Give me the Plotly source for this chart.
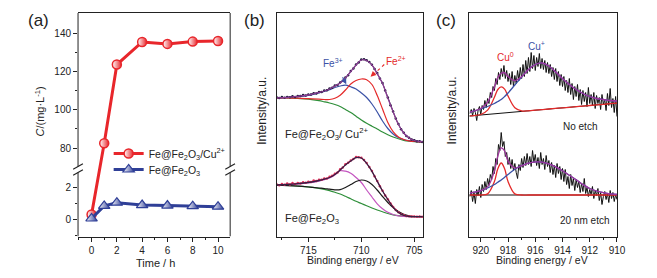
import plotly.graph_objects as go

W, H = 657, 278
FONT = "Liberation Sans, Arial, sans-serif"
TXT = "#222222"


def PX(px):
    return px / W


def PY(py):
    return 1 - py / H


# ---------------- Panel (a) data ----------------
time_h = [0, 1, 2, 4, 6, 8, 10]
conc_fe_cu = [0.3, 82.5, 123.6, 135.4, 134.4, 135.6, 135.9]
conc_fe = [0.05, 0.85, 1.05, 0.9, 0.87, 0.83, 0.8]
xticks_a = [0, 2, 4, 6, 8, 10]
xminor_a = [-1, 1, 3, 5, 7, 9]
yticks_a = [0, 2, 80, 100, 120, 140]
yminor_a = [-1, 1, 90, 110, 130]

# broken axis: lower segment linear, upper segment compressed
BREAK_AT = 40
UP_D0 = 4.51
UP_SCALE = 8.25


def brk(v):
    return v if v < BREAK_AT else UP_D0 + (v - 80) / UP_SCALE


# ---------------- Panel (b) data ----------------
E_FIT_B = [718, 717, 716, 715, 714, 713.5, 713, 712.5, 712, 711.5, 711, 710.5, 710,
           709.5, 709, 708.5, 708, 707.5, 707, 706.5, 706, 705.5, 705, 704.5, 704.2]
top_env = [138.7, 139.0, 140.2, 141.5, 144.0, 145.5, 147.5, 150.5, 153.5, 158.5, 165.0, 171.5, 176.5,
           176.0, 171.5, 163.0, 153.0, 138.5, 124.8, 112.0, 103.5, 98.5, 96.0, 95.0, 94.8]
top_fe3 = [138.7, 139.0, 139.7, 141.0, 143.5, 145.0, 146.7, 149.0, 150.5, 151.3, 149.7, 147.5, 143.5,
           139.0, 132.5, 124.5, 115.5, 108.0, 102.5, 99.0, 97.0, 95.8, 95.2, 94.8, 94.7]
top_fe2 = [138.7, 138.6, 138.3, 137.8, 137.3, 137.0, 137.0, 138.2, 141.2, 146.5, 152.5, 156.0, 157.5,
           156.8, 152.0, 141.0, 127.5, 114.0, 104.8, 99.5, 97.0, 95.7, 95.0, 94.7, 94.7]
top_bg = [138.7, 138.5, 138.0, 137.3, 135.8, 134.7, 133.5, 132.0, 130.0, 127.0, 124.0, 120.3, 116.5,
          113.2, 110.3, 107.5, 104.5, 101.8, 99.5, 97.7, 96.2, 95.3, 94.8, 94.5, 94.5]
bot_env = [51.5, 52.0, 52.8, 54.0, 56.0, 57.3, 59.0, 62.0, 66.5, 71.5, 75.5, 78.9, 78.5,
           73.2, 65.2, 55.2, 45.5, 37.0, 29.2, 24.0, 21.2, 20.2, 19.9, 19.8, 19.8]
bot_c1 = [51.3, 51.7, 52.4, 53.5, 55.3, 56.7, 58.5, 61.5, 65.7, 65.3, 63.2, 59.0, 54.0,
          46.5, 39.5, 32.7, 27.7, 24.2, 22.0, 20.7, 20.1, 19.9, 19.8, 19.8, 19.8]
bot_c2 = [51.3, 50.9, 50.3, 49.5, 48.5, 48.0, 47.3, 46.7, 46.9, 49.0, 51.9, 55.0, 56.5,
          55.5, 52.0, 46.5, 40.0, 34.0, 29.0, 25.0, 22.2, 20.7, 20.0, 19.8, 19.8]
bot_bg = [51.3, 51.0, 50.5, 49.7, 48.2, 47.2, 45.8, 44.2, 42.5, 40.2, 37.7, 35.2, 33.0,
          30.7, 28.5, 26.5, 24.7, 23.0, 21.7, 20.8, 20.3, 20.0, 19.8, 19.8, 19.8]

E_DATA_B = [718.0, 717.75, 717.5, 717.25, 717.0, 716.75, 716.5, 716.25, 716.0, 715.75,
            715.5, 715.25, 715.0, 714.75, 714.5, 714.25, 714.0, 713.75, 713.5, 713.25,
            713.0, 712.75, 712.5, 712.25, 712.0, 711.75, 711.5, 711.25, 711.0, 710.75,
            710.5, 710.25, 710.0, 709.75, 709.5, 709.25, 709.0, 708.75, 708.5, 708.25,
            708.0, 707.75, 707.5, 707.25, 707.0, 706.75, 706.5, 706.25, 706.0, 705.75,
            705.5, 705.25, 705.0, 704.75, 704.5, 704.25]
top_data_b = [139.3, 138.5, 139.4, 138.8, 139.5, 139.2, 140.3, 139.6, 140.6, 140.4,
              141.4, 140.9, 141.9, 142.1, 143.3, 143.0, 144.5, 144.6, 145.9, 146.2,
              147.9, 148.8, 150.9, 151.6, 154.0, 155.8, 158.9, 161.3, 165.4, 168.0,
              171.9, 174.0, 176.9, 177.2, 176.3, 174.4, 171.8, 167.6, 163.4, 158.1,
              153.4, 145.9, 138.9, 131.2, 125.1, 117.9, 112.4, 107.2, 103.8, 100.5,
              98.8, 97.1, 96.3, 95.2, 95.3, 94.6]
bot_data_b = [52.3, 51.2, 52.6, 51.7, 52.9, 52.1, 53.4, 52.6, 53.6, 53.1,
              54.3, 53.7, 54.8, 54.6, 55.9, 55.4, 56.8, 56.7, 58.1, 58.0,
              59.8, 60.7, 62.8, 64.1, 67.2, 69.0, 72.2, 73.8, 76.1, 77.6,
              79.4, 79.3, 78.8, 76.6, 73.6, 69.6, 65.4, 60.2, 55.5, 50.3,
              45.7, 41.1, 37.2, 33.0, 29.4, 26.5, 24.2, 22.4, 21.4, 20.5,
              20.3, 19.9, 20.1, 19.7, 19.9, 19.7]
xticks_b = [715, 710, 705]
xminor_b = [717.5, 712.5, 707.5]

# ---------------- Panel (c) data ----------------
E_FIT_C = [920.8, 920.5, 920, 919.5, 919, 918.75, 918.5, 918.25, 918, 917.5, 917, 916.5, 916,
           915.5, 915, 914.5, 914, 913.5, 913, 912.5, 912, 911.5, 911, 910.5, 910]
top_cu0 = [120.6, 120.9, 122.0, 126.4, 139.3, 147.0, 149.6, 147.4, 140.5, 128.8, 125.6, 125.7, 126.3,
           126.9, 127.5, 128.1, 128.7, 129.2, 129.8, 130.4, 131.0, 131.6, 132.2, 132.8, 133.4]
top_cu1 = [124.5, 125.5, 127.5, 130.0, 133.0, 135.0, 137.0, 140.0, 143.5, 151.5, 159.5, 167.0, 172.0,
           173.5, 170.5, 164.5, 158.0, 152.0, 147.0, 143.0, 140.0, 138.0, 137.0, 136.0, 135.5]
top_envc = [124.5, 125.5, 128.0, 134.3, 149.6, 159.0, 163.3, 163.8, 160.1, 155.8, 160.0, 167.0, 172.0,
            173.5, 170.5, 164.5, 158.0, 152.0, 147.0, 143.0, 140.0, 138.0, 137.0, 136.0, 135.5]
E_BASE_C = [920.85, 910.0]
top_base = [120.5, 133.4]
bot_base = [41.5, 41.5]
bot_cu0 = [41.5, 41.5, 41.5, 42.6, 54.9, 67.7, 73.5, 67.7, 54.9, 42.6, 41.5, 41.5, 41.5,
           41.5, 41.5, 41.5, 41.5, 41.5, 41.5, 41.5, 41.5, 41.5, 41.5, 41.5, 41.5]
bot_cu1 = [43.4, 44.3, 45.8, 48.5, 52.0, 54.3, 56.6, 59.3, 62.0, 67.3, 70.8, 73.3, 74.6,
           74.4, 72.6, 69.6, 65.8, 61.3, 56.8, 52.0, 48.0, 45.5, 43.8, 42.6, 42.0]
bot_envc = [43.4, 44.3, 45.8, 49.6, 65.4, 80.5, 88.6, 85.5, 75.4, 68.4, 70.8, 73.3, 74.6,
            74.4, 72.6, 69.6, 65.8, 61.3, 56.8, 52.0, 48.0, 45.5, 43.8, 42.6, 42.0]

E_DATA_C = [920.8, 920.7, 920.6, 920.5, 920.4, 920.3, 920.2, 920.1, 920.0, 919.9,
            919.8, 919.7, 919.6, 919.5, 919.4, 919.3, 919.2, 919.1, 919.0, 918.9,
            918.8, 918.7, 918.6, 918.5, 918.4, 918.3, 918.2, 918.1, 918.0, 917.9,
            917.8, 917.7, 917.6, 917.5, 917.4, 917.3, 917.2, 917.1, 917.0, 916.9,
            916.8, 916.7, 916.6, 916.5, 916.4, 916.3, 916.2, 916.1, 916.0, 915.9,
            915.8, 915.7, 915.6, 915.5, 915.4, 915.3, 915.2, 915.1, 915.0, 914.9,
            914.8, 914.7, 914.6, 914.5, 914.4, 914.3, 914.2, 914.1, 914.0, 913.9,
            913.8, 913.7, 913.6, 913.5, 913.4, 913.3, 913.2, 913.1, 913.0, 912.9,
            912.8, 912.7, 912.6, 912.5, 912.4, 912.3, 912.2, 912.1, 912.0, 911.9,
            911.8, 911.7, 911.6, 911.5, 911.4, 911.3, 911.2, 911.1, 911.0, 910.9,
            910.8, 910.7, 910.6, 910.5, 910.4, 910.3, 910.2, 910.1, 910.0]
top_data_c = [123, 127, 121, 128, 124, 116, 126, 130, 122, 131,
              127, 136, 129, 138, 133, 144, 139, 150, 146, 158,
              152, 164, 157, 168, 160, 171, 158, 166, 155, 163,
              152, 165, 150, 161, 153, 166, 156, 169, 158, 172,
              160, 176, 163, 179, 165, 184, 168, 181, 166, 179,
              170, 183, 168, 178, 167, 176, 164, 174, 163, 172,
              160, 169, 157, 168, 155, 165, 151, 162, 150, 160,
              146, 156, 144, 158, 142, 153, 137, 150, 140, 152,
              136, 147, 132, 146, 135, 144, 130, 149, 133, 142,
              131, 144, 128, 141, 133, 139, 127, 142, 132, 137,
              126, 143, 131, 148, 129, 138, 124, 140, 120]
bot_data_c = [40, 46, 35, 44, 33, 47, 41, 50, 39, 52,
              45, 55, 47, 58, 51, 62, 57, 70, 63, 78,
              72, 92, 86, 104, 90, 95, 80, 84, 72, 79,
              68, 77, 66, 73, 64, 58, 72, 66, 78, 69,
              80, 71, 83, 72, 80, 70, 86, 74, 82, 71,
              79, 68, 84, 72, 78, 67, 81, 70, 76, 64,
              74, 62, 71, 59, 73, 63, 70, 57, 68, 55,
              67, 52, 60, 48, 62, 51, 58, 46, 57, 49,
              55, 44, 53, 45, 58, 43, 49, 40, 47, 42,
              50, 38, 46, 41, 48, 36, 44, 32, 40, 45,
              37, 43, 34, 46, 38, 44, 35, 42, 37]
xticks_c = [920, 918, 916, 914, 912, 910]
xminor_c = [921, 919, 917, 915, 913, 911]

# ---------------- colours ----------------
RED_A = "#e8262b"
BLUE_A = "#2f3f97"
C_BLUE = "#3b52a6"
C_RED = "#e42a2a"
C_GREEN = "#2f8f3a"
C_PURPLE = "#8a3c92"
C_DARK = "#1c1c3a"
C_PINK = "#e2305a"
C_MAG = "#c455c0"
C_BLACK = "#1a1a1a"

fig = go.Figure()

# ----- panel (a) -----
fig.add_trace(go.Scatter(
    x=time_h, y=[brk(v) for v in conc_fe_cu], xaxis="x", yaxis="y",
    mode="lines+markers", name="Fe@Fe<sub>2</sub>O<sub>3</sub>/Cu<sup>2+</sup>",
    legend="legend",
    line=dict(color=RED_A, width=3),
    marker=dict(symbol="circle", size=9, color="white",
                gradient=dict(type="horizontal", color=RED_A),
                line=dict(color=RED_A, width=1.5)),
    cliponaxis=False))
fig.add_trace(go.Scatter(
    x=time_h, y=[brk(v) for v in conc_fe], xaxis="x", yaxis="y",
    mode="lines+markers", name="Fe@Fe<sub>2</sub>O<sub>3</sub>",
    legend="legend2",
    line=dict(color=BLUE_A, width=3),
    marker=dict(symbol="triangle-up", size=10, color="white",
                gradient=dict(type="horizontal", color=BLUE_A),
                line=dict(color=BLUE_A, width=1.2)),
    cliponaxis=False))


def add_line(x, y, ax, color, width=1.2, shape="spline", mode="lines", msize=2.5):
    fig.add_trace(go.Scatter(
        x=x, y=y, xaxis="x" + ax, yaxis="y" + ax, mode=mode, showlegend=False,
        line=dict(color=color, width=width, shape=shape),
        marker=dict(size=msize, color=color), hoverinfo="skip"))


# ----- panel (b) -----
add_line(E_FIT_B, top_bg, "2", C_GREEN)
add_line(E_FIT_B, top_fe3, "2", C_BLUE)
add_line(E_FIT_B, top_fe2, "2", C_RED)
add_line(E_DATA_B, top_data_b, "2", C_DARK, width=1, shape="linear", mode="lines+markers")
add_line(E_FIT_B, top_env, "2", C_PURPLE, width=1.3)
add_line(E_FIT_B, bot_bg, "2", C_GREEN)
add_line(E_FIT_B, bot_c1, "2", C_MAG)
add_line(E_FIT_B, bot_c2, "2", C_BLACK)
add_line(E_DATA_B, bot_data_b, "2", C_PINK, width=1, shape="linear", mode="lines+markers")
add_line(E_FIT_B, bot_env, "2", "#3a1f45", width=1.3)

# ----- panel (c) -----
add_line(E_DATA_C, top_data_c, "3", "#111111", width=1, shape="linear")
add_line(E_BASE_C, top_base, "3", "#111111", width=1, shape="linear")
add_line(E_FIT_C, top_cu0, "3", C_RED, width=1.3)
add_line(E_FIT_C, top_cu1, "3", C_BLUE, width=1.3)
add_line(E_FIT_C, top_envc, "3", "#a0359e", width=1.3)
add_line(E_DATA_C, bot_data_c, "3", "#111111", width=1, shape="linear")
add_line(E_BASE_C, bot_base, "3", "#111111", width=1, shape="linear")
add_line(E_FIT_C, bot_cu0, "3", C_RED, width=1.3)
add_line(E_FIT_C, bot_cu1, "3", C_BLUE, width=1.3)
add_line(E_FIT_C, bot_envc, "3", "#a0359e", width=1.3)

YDOM = [PY(236.5), PY(13)]
tickfont = dict(family=FONT, size=10, color=TXT)
common_x = dict(showgrid=False, zeroline=False, showline=True, linecolor=TXT, linewidth=1,
                mirror=True, ticks="outside", ticklen=4, tickwidth=1, tickcolor=TXT,
                tickfont=tickfont, tickmode="array")
leg_common = dict(xanchor="left", yanchor="middle", bgcolor="rgba(0,0,0,0)",
                  font=dict(family=FONT, size=10.5, color=TXT), itemwidth=30,
                  borderwidth=0)

fig.update_layout(
    width=W, height=H, autosize=False,
    margin=dict(l=0, r=0, t=0, b=0),
    paper_bgcolor="white", plot_bgcolor="white",
    font=dict(family=FONT, color=TXT),
    showlegend=True,
    legend=dict(x=PX(110), y=PY(153.5), **leg_common),
    legend2=dict(x=PX(110), y=PY(169.5), **leg_common),
    xaxis=dict(domain=[PX(79), PX(233)], range=[-1.07, 10.96], anchor="y",
               tickvals=xticks_a,
               minor=dict(tickmode="array", tickvals=xminor_a, ticks="outside", ticklen=2.5,
                          tickcolor=TXT),
               **common_x),
    yaxis=dict(domain=YDOM, range=[-1.09, 13.06], anchor="x", showgrid=False, zeroline=False,
               showline=False, ticks="outside", ticklen=4, tickwidth=1, tickcolor=TXT,
               tickmode="array", tickvals=[brk(v) for v in yticks_a],
               ticktext=[str(v) for v in yticks_a], tickfont=tickfont,
               minor=dict(tickmode="array", tickvals=[brk(v) for v in yminor_a], ticks="outside",
                          ticklen=2.5, tickcolor=TXT)),
    xaxis2=dict(domain=[PX(280), PX(428)], range=[718, 704.2], anchor="y2",
                tickvals=xticks_b,
                minor=dict(tickmode="array", tickvals=xminor_b, ticks="outside", ticklen=2.5,
                           tickcolor=TXT),
                **common_x),
    yaxis2=dict(domain=YDOM, range=[0, 223.5], anchor="x2", showgrid=False, zeroline=False,
                showline=True, mirror=True, linecolor=TXT, linewidth=1,
                showticklabels=False, ticks=""),
    xaxis3=dict(domain=[PX(475), PX(625)], range=[920.85, 909.97], anchor="y3",
                tickvals=xticks_c,
                minor=dict(tickmode="array", tickvals=xminor_c, ticks="outside", ticklen=2.5,
                           tickcolor=TXT),
                **common_x),
    yaxis3=dict(domain=YDOM, range=[0, 223.5], anchor="x3", showgrid=False, zeroline=False,
                showline=True, mirror=True, linecolor=TXT, linewidth=1,
                showticklabels=False, ticks=""),
)

# ----- broken spines for panel (a) -----
GAP_LO, GAP_HI = 2.96, 3.34
shapes = []
for xd in (0, 1):
    shapes.append(dict(type="line", xref="x domain", yref="y", x0=xd, x1=xd,
                       y0=-1.09, y1=GAP_LO, line=dict(color=TXT, width=1)))
    shapes.append(dict(type="line", xref="x domain", yref="y", x0=xd, x1=xd,
                       y0=GAP_HI, y1=13.06, line=dict(color=TXT, width=1)))
    for d in (GAP_LO, GAP_HI):
        shapes.append(dict(type="line", xref="x domain", yref="y", x0=xd - 0.032, x1=xd + 0.032,
                           y0=d - 0.17, y1=d + 0.17, line=dict(color=TXT, width=1.2)))
# red dotted arrow stem (panel b)
shapes.append(dict(type="line", xref="paper", yref="paper", x0=PX(389), y0=PY(64.5),
                   x1=PX(378), y1=PY(74.5), line=dict(color=C_RED, width=1.1, dash="dot")))
fig.update_layout(shapes=shapes)


def ann(px, py, text, size=10, color=TXT, angle=0, xanchor="center"):
    fig.add_annotation(x=PX(px), y=PY(py), xref="paper", yref="paper", text=text,
                       showarrow=False, textangle=angle, xanchor=xanchor, yanchor="middle",
                       font=dict(family=FONT, size=size, color=color))


ann(38.5, 20, "(a)", size=17)
ann(257.7, 20, "(b)", size=17)
ann(451.7, 20, "(c)", size=17)
ann(40, 112, "<i>C</i>/(mg·L<sup>-1</sup>)", size=11, angle=-90)
ann(157.5, 262.5, "Time / h", size=11)
ann(265, 111, "Intensity/a.u.", size=12, angle=-90)
ann(458, 110, "Intensity/a.u.", size=12, angle=-90)
ann(357.8, 260, "Binding energy / eV", size=10.5)
ann(549, 260, "Binding energy / eV", size=10.5)
ann(286.5, 134, "Fe@Fe<sub>2</sub>O<sub>3</sub>/ Cu<sup>2+</sup>", size=11, xanchor="left")
ann(286.5, 219, "Fe@Fe<sub>2</sub>O<sub>3</sub>", size=11, xanchor="left")
ann(337.5, 63, "Fe<sup>3+</sup>", size=10, color=C_BLUE)
ann(401, 61.5, "Fe<sup>2+</sup>", size=10, color=C_RED)
ann(511.5, 56.5, "Cu<sup>0</sup>", size=10, color=C_RED)
ann(543, 46.5, "Cu<sup>+</sup>", size=10, color=C_BLUE)
ann(587, 126, "No etch", size=10)
ann(591.5, 220, "20 nm etch", size=10)

# arrows in panel (b)
fig.add_annotation(x=711.42, y=152.2, xref="x2", yref="y2", ax=-4.5, ay=-8.5,
                   text="", showarrow=True,
                   arrowhead=2, arrowsize=0.9, arrowwidth=1.2, arrowcolor=C_BLUE)
fig.add_annotation(x=709.13, y=159.8, xref="x2", yref="y2", ax=4, ay=-3.6,
                   text="", showarrow=True,
                   arrowhead=2, arrowsize=0.9, arrowwidth=1.2, arrowcolor=C_RED)

fig.write_html("out.html", config={"displayModeBar": False},
               post_script="document.body.style.margin='0px';")
